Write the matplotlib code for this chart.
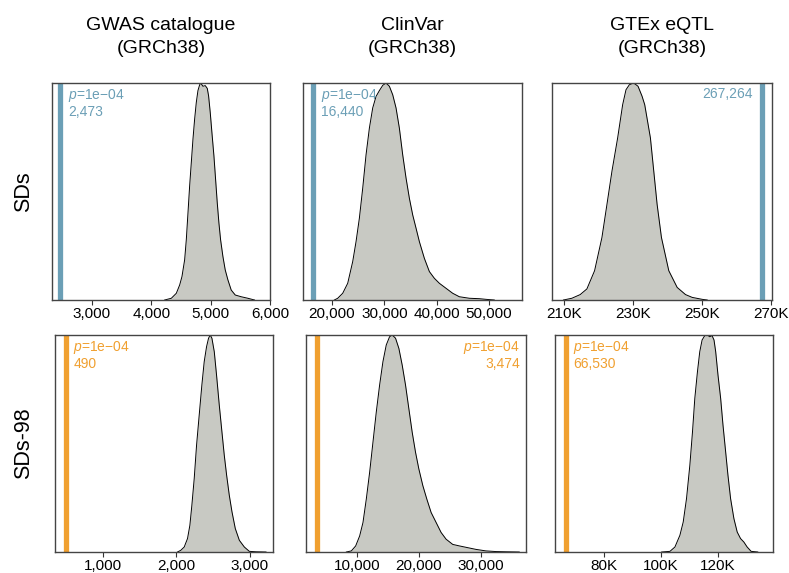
import matplotlib.pyplot as plt
from matplotlib.ticker import FuncFormatter

plt.rcParams["font.family"] = ["Liberation Sans", "DejaVu Sans"]
plt.rcParams["mathtext.fontset"] = "custom"
plt.rcParams["mathtext.it"] = "Liberation Sans:italic"
plt.rcParams["mathtext.rm"] = "Liberation Sans"

col_titles = ["GWAS catalogue\n(GRCh38)", "ClinVar\n(GRCh38)", "GTEx eQTL\n(GRCh38)"]
row_titles = ["SDs", "SDs-98"]

# null distributions (density scaled so the peak = 1)
gwas_sds_x = [4227, 4339, 4423, 4479, 4518, 4563, 4591, 4619, 4647, 4675, 4703, 4731,
              4759, 4787, 4815, 4832, 4871, 4910, 4944, 4966, 4994, 5022, 5056, 5084,
              5112, 5140, 5168, 5207, 5246, 5291, 5347, 5415, 5515, 5627, 5739]
gwas_sds_y = [0, 0.008, 0.031, 0.069, 0.108, 0.185, 0.278, 0.401, 0.525, 0.633, 0.741, 0.833,
              0.910, 0.965, 0.991, 1.0, 0.985, 0.988, 0.975, 0.941, 0.864, 0.772, 0.664, 0.556,
              0.448, 0.355, 0.278, 0.201, 0.139, 0.093, 0.046, 0.023, 0.015, 0.008, 0]

clinvar_sds_x = [20446, 21083, 22038, 22994, 23949, 24586, 25223, 25860, 26497, 27134, 27771,
                 28408, 29045, 29682, 30318, 30955, 31592, 32229, 32866, 33503, 34140, 34777,
                 35414, 36051, 36688, 37643, 38599, 39554, 40510, 41783, 43057, 44331, 46242,
                 48152, 49427, 51000]
clinvar_sds_y = [0, 0.008, 0.031, 0.077, 0.177, 0.269, 0.377, 0.515, 0.669, 0.792, 0.885,
                 0.938, 0.965, 0.989, 1.0, 0.985, 0.946, 0.885, 0.792, 0.669, 0.562, 0.469,
                 0.392, 0.331, 0.269, 0.192, 0.131, 0.100, 0.077, 0.054, 0.031, 0.015, 0.008,
                 0.006, 0.003, 0]

gtex_sds_x = [209830, 212260, 214680, 216620, 218850, 220980, 222440, 223890, 225540, 226990,
              227960, 228930, 230190, 231450, 232620, 233390, 235040, 236010, 236980, 238240,
              240370, 242800, 245220, 247160, 250070, 251520]
gtex_sds_y = [0, 0.008, 0.025, 0.051, 0.135, 0.288, 0.441, 0.594, 0.747, 0.900,
              0.969, 0.992, 1.0, 0.985, 0.939, 0.900, 0.747, 0.594, 0.441, 0.288,
              0.135, 0.058, 0.025, 0.012, 0.003, 0]

gwas_sds98_x = [2014, 2059, 2105, 2150, 2182, 2209, 2241, 2273, 2309, 2345, 2377, 2409, 2436,
                2459, 2482, 2514, 2545, 2582, 2618, 2650, 2682, 2718, 2755, 2800, 2855, 2923,
                2991, 3082, 3218]
gwas_sds98_y = [0, 0.008, 0.023, 0.062, 0.123, 0.215, 0.338, 0.492, 0.631, 0.769, 0.877, 0.946,
                0.985, 1.0, 0.985, 0.923, 0.815, 0.677, 0.554, 0.446, 0.354, 0.262, 0.185, 0.108,
                0.054, 0.023, 0.003, 0.001, 0]

clinvar_sds98_x = [8284, 9088, 9786, 10429, 10965, 11501, 12038, 12574, 13110, 13646, 14182,
                   14719, 15255, 15684, 16220, 16756, 17292, 17829, 18365, 18901, 19437, 19973,
                   20617, 21260, 21957, 22762, 23566, 24370, 25443, 26515, 27855, 29196, 30804,
                   32413, 34022, 36166]
clinvar_sds98_y = [0, 0.005, 0.028, 0.074, 0.136, 0.244, 0.367, 0.506, 0.645, 0.769, 0.877,
                   0.954, 0.992, 1.0, 0.985, 0.938, 0.861, 0.769, 0.660, 0.552, 0.460, 0.383,
                   0.306, 0.244, 0.182, 0.136, 0.090, 0.059, 0.035, 0.028, 0.020, 0.012, 0.005,
                   0.002, 0.001, 0]

gtex_sds98_x = [100230, 103140, 104880, 106630, 107790, 108950, 110120, 111050, 111860, 112790,
                113600, 114420, 115350, 116280, 117100, 117910, 118600, 119190, 120000, 120930,
                121750, 122680, 123490, 124420, 125580, 126740, 127910, 129070, 130230, 131630,
                133950]
gtex_sds98_y = [0, 0.003, 0.023, 0.077, 0.138, 0.246, 0.400, 0.554, 0.708, 0.831,
                0.923, 0.977, 0.997, 1.0, 0.992, 0.997, 0.977, 0.923, 0.815, 0.708,
                0.585, 0.462, 0.354, 0.246, 0.154, 0.092, 0.062, 0.046, 0.023, 0.003, 0]

null_x = [[gwas_sds_x, clinvar_sds_x, gtex_sds_x],
          [gwas_sds98_x, clinvar_sds98_x, gtex_sds98_x]]
null_y = [[gwas_sds_y, clinvar_sds_y, gtex_sds_y],
          [gwas_sds98_y, clinvar_sds98_y, gtex_sds98_y]]

observed = [[2473, 16440, 267264], [490, 3474, 66530]]
p_values = [["1e\u221204", "1e\u221204", None], ["1e\u221204", "1e\u221204", "1e\u221204"]]

x_ticks = [[[3000, 4000, 5000, 6000], [20000, 30000, 40000, 50000], [210000, 230000, 250000, 270000]],
           [[1000, 2000, 3000], [10000, 20000, 30000], [80000, 100000, 120000]]]

# axis limits and panel positions
x_lims = [[(2330, 6000), (14450, 56300), (206500, 270300)],
          [(347, 3313), (1774, 37258), (62800, 139300)]]
# where the label sits relative to the observed line
text_side = [["after", "after", "before"], ["after", "edge", "after"]]
positions = [[(52, 83, 218, 217), (303, 83, 219, 217), (552, 83, 220, 217)],
             [(55, 335, 218, 217), (306, 335, 220, 217), (555, 335, 218, 217)]]
row_colors = ["#6b9fb6", "#f0a030"]

W, H = 789, 573
fig = plt.figure(figsize=(W / 100, H / 100), dpi=100)

comma_fmt = FuncFormatter(lambda v, pos: f"{int(v):,}")
k_fmt = FuncFormatter(lambda v, pos: f"{int(round(v / 1000))}K")

for r in range(2):
    for c in range(3):
        left, top, w, h = positions[r][c]
        ax = fig.add_axes([left / W, 1 - (top + h) / H, w / W, h / H])
        xs, ys = null_x[r][c], null_y[r][c]
        ax.fill_between(xs, ys, 0, color="#c8c9c3", linewidth=0)
        ax.plot(xs, ys, color="black", linewidth=0.7)
        obs = observed[r][c]
        color = row_colors[r]
        ax.axvline(obs, color=color, linewidth=3.8)

        ax.set_xlim(*x_lims[r][c])
        ax.set_ylim(0, 1)
        ax.set_yticks([])
        ax.set_xticks(x_ticks[r][c])
        ax.xaxis.set_major_formatter(k_fmt if c == 2 else comma_fmt)
        ax.tick_params(axis="x", length=3.5, width=0.8, color="#333333",
                       labelsize=11, pad=1.5)
        for s in ax.spines.values():
            s.set_color("#444444")
            s.set_linewidth(1.0)

        label = f"{obs:,}"
        if p_values[r][c] is not None:
            label = f"$p$={p_values[r][c]}\n" + label
        side = text_side[r][c]
        if side == "after":
            ax.annotate(label, xy=(obs, 1), xycoords=("data", "axes fraction"),
                        xytext=(5.5, -3), textcoords="offset points",
                        ha="left", va="top", color=color, fontsize=10, linespacing=1.05)
        elif side == "before":
            ax.annotate(label, xy=(obs, 1), xycoords=("data", "axes fraction"),
                        xytext=(-6, -3), textcoords="offset points",
                        ha="right", va="top", color=color, fontsize=10, linespacing=1.05)
        else:
            ax.annotate(label, xy=(1, 1), xycoords="axes fraction",
                        xytext=(-4.5, -3), textcoords="offset points",
                        ha="right", va="top", color=color, fontsize=10, linespacing=1.05,
                        multialignment="right")

for c, title in enumerate(col_titles):
    left, top, w, h = positions[0][c]
    fig.text((left + w / 2) / W, 1 - 37 / H, title, ha="center", va="center",
             fontsize=14, linespacing=1.45)

for r, title in enumerate(row_titles):
    left, top, w, h = positions[r][0]
    fig.text(24 / W, 1 - (top + h / 2) / H, title, ha="center", va="center",
             rotation=90, fontsize=15.5)

fig.savefig("out.png", dpi=100)
